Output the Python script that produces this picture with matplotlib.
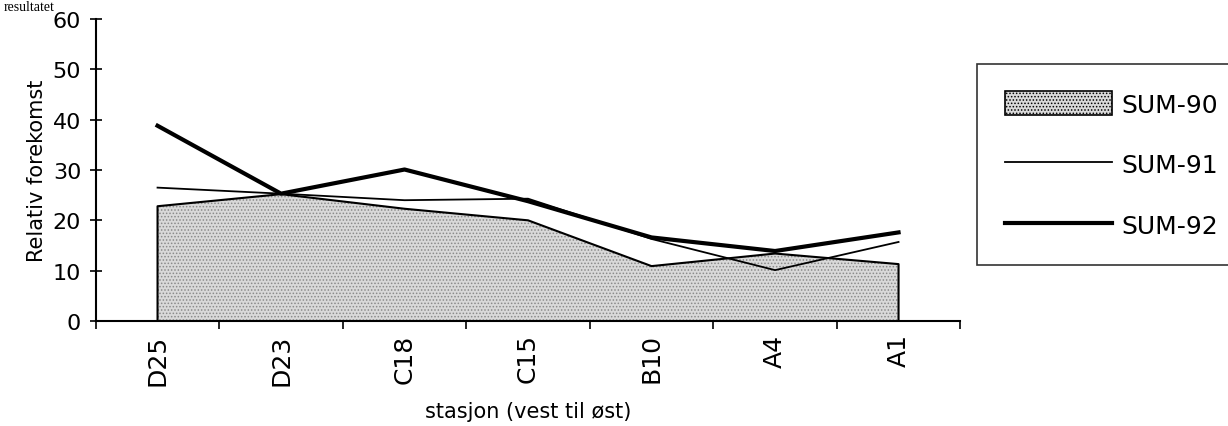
import numpy as np
import matplotlib.pyplot as plt
from matplotlib.patches import Patch
from matplotlib.lines import Line2D

# stations from west to east
stations = ['D25', 'D23', 'C18', 'C15', 'B10', 'A4', 'A1']
sum90 = [22.8, 25.2, 22.3, 20.0, 10.9, 13.4, 11.3]
sum91 = [26.5, 25.3, 24.0, 24.3, 16.3, 10.1, 15.7]
sum92 = [38.8, 25.3, 30.1, 23.8, 16.6, 13.9, 17.6]
yticks = [0, 10, 20, 30, 40, 50, 60]

plt.rcParams['font.family'] = ['DejaVu Sans']
plt.rcParams['hatch.color'] = '#8a8a8a'
plt.rcParams['hatch.linewidth'] = 0.7

fig = plt.figure(figsize=(12.28, 4.27), dpi=100)
ax = fig.add_axes([0.078, 0.246, 0.704, 0.707])

x = np.arange(len(stations))

# area series, outlined incl. the vertical edges
ax.fill_between(x, 0, sum90, facecolor='#d9d9d9', edgecolor='none', hatch='.....', zorder=1)
ax.plot(np.r_[x[0], x, x[-1]], np.r_[0, sum90, 0], color='black', lw=1.5, zorder=2)

ax.plot(x, sum91, color='black', lw=1.3, zorder=3)
ax.plot(x, sum92, color='black', lw=3.0, zorder=4)

ax.set_xlim(-0.5, 6.5)
ax.set_ylim(0, 60)
ax.set_yticks(yticks)
ax.tick_params(axis='y', direction='inout', length=9, width=1.2, labelsize=16, pad=6)
ax.set_xticks(x)
ax.set_xticklabels(stations, rotation=90, fontsize=18)
ax.tick_params(axis='x', length=0, pad=9)
ax.set_xticks(np.arange(-0.5, 7, 1), minor=True)
ax.tick_params(axis='x', which='minor', direction='out', length=6, width=1.2)

for s in ['top', 'right']:
    ax.spines[s].set_visible(False)
for s in ['left', 'bottom']:
    ax.spines[s].set_linewidth(1.5)

ax.set_ylabel('Relativ forekomst', fontsize=15, labelpad=4)
ax.set_xlabel('stasjon (vest til øst)', fontsize=15, labelpad=12)

handles = [
    Patch(facecolor='#d9d9d9', edgecolor='black', hatch='.....', linewidth=1.2),
    Line2D([], [], color='black', lw=1.3),
    Line2D([], [], color='black', lw=3.0),
]
leg = fig.legend(handles, ['SUM-90', 'SUM-91', 'SUM-92'], loc='upper left',
                 bbox_to_anchor=(0.796, 0.848), fontsize=18, frameon=True,
                 fancybox=False, edgecolor='black', handlelength=4.3,
                 handleheight=1.1, labelspacing=1.4, borderpad=1.1, handletextpad=0.35,
                 borderaxespad=0)
leg.get_frame().set_linewidth(1.2)

# caption text from the page above, mostly cut off in the scan
fig.text(0.003, 0.998, 'resultatet', fontsize=10, family='Liberation Serif', va='top', ha='left')

fig.savefig('out.png', dpi=100)
